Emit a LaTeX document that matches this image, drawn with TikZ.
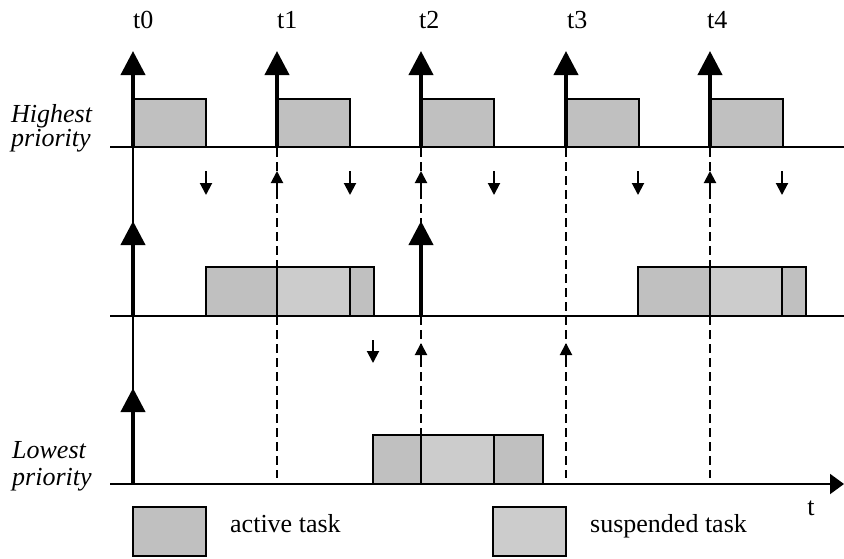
\documentclass[tikz,border=0pt]{standalone}
\usepackage{fontspec}
\setmainfont{Liberation Serif}
\usetikzlibrary{arrows.meta}
\definecolor{activegray}{HTML}{C0C0C0}
\definecolor{suspgray}{HTML}{CCCCCC}
\begin{document}
\begin{tikzpicture}[x=1pt,y=-1pt,color=black,
	axis/.style={line width=2pt},
	bigarrow/.style={line width=4pt,-{Triangle[width=24pt,length=24pt]}},
	smallarrow/.style={line width=2pt,-{Triangle[width=12pt,length=12pt]}},
	guide/.style={line width=2pt,dash pattern=on 9pt off 5pt},
	active/.style={draw,line width=2pt,fill=activegray},
	suspended/.style={draw,line width=2pt,fill=suspgray},
	lbl/.style={font=\fontsize{26}{25}\selectfont,inner sep=0pt}]
\useasboundingbox (0,0) rectangle (844,558);
\foreach \x in {277,421,566,710} {
	\draw[guide] (\x,148) -- (\x,478);
}
\draw[line width=1.5pt] (133,148) -- (133,484);
\draw[axis] (110,147) -- (844,147);
\draw[axis] (110,316) -- (844,316);
\draw[axis,-{Triangle[width=20pt,length=14pt]}] (110,484) -- (844,484);
\foreach \x in {133,277,421,566,710} {
	\draw[active] (\x,99) rectangle ++(73,48);
	\draw[bigarrow] (\x,148) -- (\x,51);
}
\draw[active] (206,267) rectangle (277,316);
\draw[suspended] (277,267) rectangle (350,316);
\draw[active] (350,267) rectangle (374,316);
\draw[active] (638,267) rectangle (710,316);
\draw[suspended] (710,267) rectangle (782,316);
\draw[active] (782,267) rectangle (806,316);
\draw[active] (373,435) rectangle (421,484);
\draw[suspended] (421,435) rectangle (494,484);
\draw[active] (494,435) rectangle (543,484);
\draw[bigarrow] (133,316) -- (133,221);
\draw[bigarrow] (421,316) -- (421,221);
\draw[bigarrow] (133,484) -- (133,388);
\foreach \x in {206,350,494,638,782} {
	\draw[smallarrow] (\x,171) -- (\x,195);
}
\foreach \x in {277,421,710} {
	\draw[smallarrow] (\x,195) -- (\x,171);
}
\draw[smallarrow] (373,340) -- (373,363);
\foreach \x in {421,566} {
	\draw[smallarrow] (\x,365) -- (\x,343);
}
\foreach \x [count=\i from 0] in {133,277,419,567,707} {
	\node[lbl,anchor=base west] (t\i) at (\x,28) {t\i};
}
\node[lbl,anchor=base west,align=left,font=\fontsize{26}{24}\selectfont\itshape] (high) at (11,146) {Highest\\priority};
\node[lbl,anchor=base west,align=left,font=\fontsize{26}{27}\selectfont\itshape] (low) at (12,485) {Lowest\\priority};
\node[lbl,anchor=base] (time) at (811,515) {t};
\draw[active] (133,507) rectangle (206,556);
\node[lbl,anchor=base west] (activelbl) at (230,532) {active task};
\draw[suspended] (493,507) rectangle (566,556);
\node[lbl,anchor=base west] (susplbl) at (590,532) {suspended task};
\end{tikzpicture}
\end{document}
